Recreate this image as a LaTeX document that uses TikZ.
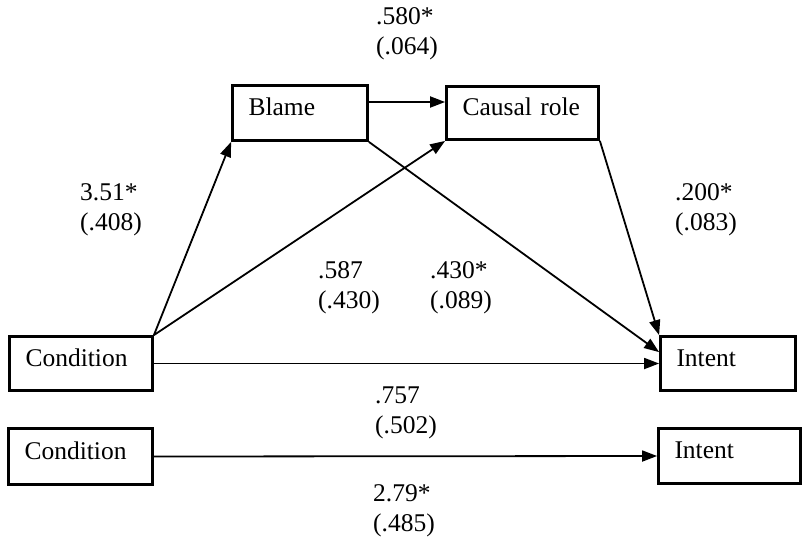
\documentclass[tikz,border=0pt]{standalone}
\usepackage{fontspec}
\setmainfont{Liberation Serif}
\usetikzlibrary{arrows.meta,calc}
\tikzset{
  bx/.style={draw, line width=2.8pt, inner xsep=16pt, inner ysep=0pt, align=left,
    text height=16pt, text depth=11pt, font=\fontsize{25.5}{28}\selectfont},
  lbl/.style={anchor=base west, align=left, inner sep=0pt, font=\fontsize{25.5}{30}\selectfont},
  arr/.style={line width=1.8pt, -{Triangle[length=15pt,width=11pt]}}
}
\begin{document}
\begin{tikzpicture}[x=1pt,y=-1pt]
\useasboundingbox (0,0) rectangle (806,539);
% boxes
\node[bx, minimum width=143pt, minimum height=54pt, text width=111pt] (cond1) at (81,363.5) {Condition};
\node[bx, minimum width=144pt, minimum height=56pt, text width=112pt] (cond2) at (80.5,456.5) {Condition};
\node[bx, minimum width=135pt, minimum height=55pt, text width=103pt] (blame) at (300,113) {Blame};
\node[bx, minimum width=152pt, minimum height=53pt, text width=120pt] (causal) at (522.5,113) {Causal role};
\node[bx, minimum width=135pt, minimum height=54pt, text width=103pt] (intent1) at (728,363.5) {Intent};
\node[bx, minimum width=142pt, minimum height=55pt, text width=110pt] (intent2) at (729.5,456) {Intent};
% helper coordinates
\coordinate (bcs) at ($(blame.east)+(0,-11)$);
\coordinate (bce) at (bcs -| causal.west);
\coordinate (ia) at ($(intent1.north west)+(0,17)$);
% connectors
\draw[arr] (cond1.north east) -- (blame.south west);
\draw[arr] (cond1.north east) -- (causal.south west);
\draw[arr] (cond1.east) -- (intent1.west);
\draw[arr] (bcs) -- (bce);
\draw[arr] (blame.south east) -- (ia);
\draw[arr] (causal.south east) -- (intent1.north west);
\draw[arr] (cond2.east) -- (intent2.west);
% labels (anchor = baseline of the last line)
\node[lbl] (l1) at (376,54) {.580*\\(.064)};
\node[lbl] (l2) at (80,230) {3.51*\\(.408)};
\node[lbl] (l3) at (318,308) {.587\\(.430)};
\node[lbl] (l4) at (430,308) {.430*\\(.089)};
\node[lbl] (l5) at (675,230) {.200*\\(.083)};
\node[lbl] (l6) at (375,433) {.757\\(.502)};
\node[lbl] (l7) at (373,531) {2.79*\\(.485)};
\end{tikzpicture}
\end{document}
